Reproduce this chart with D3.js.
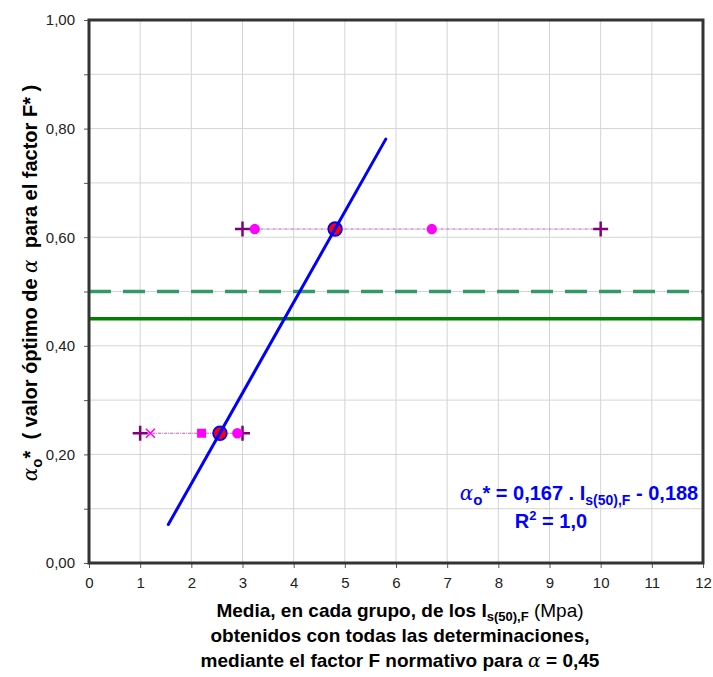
<!DOCTYPE html>
<html><head><meta charset="utf-8">
<script src="https://cdn.jsdelivr.net/npm/d3@7"></script>
<style>body{margin:0;background:#fff}</style>
</head><body>
<svg id="c" width="713" height="677"></svg>
<script>
// Data
const groupY = [0.239, 0.615];
const rangeMin = [1.0, 3.0];          // "+" markers, left
const rangeMax = [3.0, 10.0];         // "+" markers, right
const meanX = [2.56, 4.81];           // red/blue circle (group mean)
const circleX = [[2.9], [3.24, 6.7]]; // magenta circles
const squareX = [2.2];                // magenta square (group 1)
const crossX = [1.2];                 // magenta x (group 1)
const regSlope = 0.167, regIntercept = -0.188;
const regRange = [1.55, 5.8];
const refDashed = 0.50, refSolid = 0.45;
const xTicks = d3.range(0, 13, 1);
const yTicks = [0, 0.2, 0.4, 0.6, 0.8, 1.0];
const yGrid = d3.range(0, 1.0001, 0.1);

const svg = d3.select('#c');
const L = 89, R = 703, T = 20, B = 563;
const x = d3.scaleLinear().domain([0, 12]).range([L, R]);
const y = d3.scaleLinear().domain([0, 1]).range([B, T]);
const fmt = v => d3.format('.2f')(v).replace('.', ',');
const FF = 'Liberation Sans, Arial, sans-serif';
const SER = 'DejaVu Serif, serif';

// grid
svg.append('g').selectAll('line.v').data(xTicks.slice(1, -1)).join('line')
  .attr('x1', d => x(d)).attr('x2', d => x(d)).attr('y1', T).attr('y2', B)
  .attr('stroke', '#d4d4d4').attr('stroke-width', 1);
svg.append('g').selectAll('line.h').data(yGrid.slice(1, -1)).join('line')
  .attr('y1', d => y(d)).attr('y2', d => y(d)).attr('x1', L).attr('x2', R)
  .attr('stroke', '#d4d4d4').attr('stroke-width', 1);

// axes
const xAxis = d3.axisBottom(x).tickValues(xTicks).tickSize(5).tickFormat(d3.format('d'));
const gx = svg.append('g').attr('transform', `translate(0,${B})`).call(xAxis);
gx.select('.domain').remove();
gx.selectAll('line').attr('stroke', '#555');
gx.selectAll('text').attr('font-family', FF).attr('font-size', 15).attr('fill', '#222').attr('dy', '1.1em');

const yAxis = d3.axisLeft(y).tickValues(yGrid).tickSize(5).tickFormat(d => yTicks.some(t => Math.abs(t - d) < 1e-6) ? fmt(d) : '');
const gy = svg.append('g').attr('transform', `translate(${L},0)`).call(yAxis);
gy.select('.domain').remove();
gy.selectAll('line').attr('stroke', '#555');
gy.selectAll('text').attr('font-family', FF).attr('font-size', 15).attr('fill', '#222').attr('dx', '-0.4em');

// reference lines
svg.append('line').attr('x1', L).attr('x2', R).attr('y1', y(refDashed)).attr('y2', y(refDashed))
  .attr('stroke', '#339966').attr('stroke-width', 3.5).attr('stroke-dasharray', '22,12');
svg.append('line').attr('x1', L).attr('x2', R).attr('y1', y(refSolid)).attr('y2', y(refSolid))
  .attr('stroke', '#008000').attr('stroke-width', 3.5);

// dotted range lines
svg.append('g').selectAll('line').data(groupY).join('line')
  .attr('x1', (d, i) => x(rangeMin[i])).attr('x2', (d, i) => x(rangeMax[i]))
  .attr('y1', d => y(d)).attr('y2', d => y(d))
  .attr('stroke', '#b060b0').attr('stroke-width', 1).attr('stroke-dasharray', '3,1,1,1');

// plus markers
const plusPts = [];
groupY.forEach((g, i) => { plusPts.push([rangeMin[i], g]); plusPts.push([rangeMax[i], g]); });
const pg = svg.append('g');
plusPts.forEach(p => {
  const cx = x(p[0]), cy = y(p[1]), s = 7.5;
  pg.append('path').attr('d', `M${cx - s},${cy}H${cx + s}M${cx},${cy - s}V${cy + s}`)
    .attr('stroke', '#800080').attr('stroke-width', 2.5);
});

// magenta circles
const circPts = [];
circleX.forEach((arr, i) => arr.forEach(v => circPts.push([v, groupY[i]])));
svg.append('g').selectAll('circle').data(circPts).join('circle')
  .attr('cx', d => x(d[0])).attr('cy', d => y(d[1])).attr('r', 5.2).attr('fill', '#ff00ff');

// square
svg.append('g').selectAll('rect').data(squareX).join('rect')
  .attr('x', d => x(d) - 4.5).attr('y', y(groupY[0]) - 4.5).attr('width', 9).attr('height', 9).attr('fill', '#ff00ff');

// x marks
const xg = svg.append('g');
crossX.forEach(v => {
  const cx = x(v), cy = y(groupY[0]), s = 4.5;
  xg.append('path').attr('d', `M${cx - s},${cy - s}L${cx + s},${cy + s}M${cx - s},${cy + s}L${cx + s},${cy - s}`)
    .attr('stroke', '#ff00ff').attr('stroke-width', 1.6);
});

// mean circles
svg.append('g').selectAll('circle').data(meanX).join('circle')
  .attr('cx', d => x(d)).attr('cy', (d, i) => y(groupY[i])).attr('r', 6.8)
  .attr('fill', '#ff0000').attr('stroke', '#0000ff').attr('stroke-width', 1.8);
// regression line
svg.append('line')
  .attr('x1', x(regRange[0])).attr('y1', y(regSlope * regRange[0] + regIntercept))
  .attr('x2', x(regRange[1])).attr('y2', y(regSlope * regRange[1] + regIntercept))
  .attr('stroke', '#0000ff').attr('stroke-width', 3).attr('stroke-linecap', 'round');

// frame
svg.append('rect').attr('x', L).attr('y', T).attr('width', R - L).attr('height', B - T)
  .attr('fill', 'none').attr('stroke', '#333').attr('stroke-width', 3);

// annotation
const a1 = svg.append('text').attr('x', 579).attr('y', 500).attr('text-anchor', 'middle')
  .attr('font-family', FF).attr('font-size', 20).attr('font-weight', 'bold').attr('fill', '#0000ff');
a1.append('tspan').text('α').attr('font-family', SER).attr('font-style', 'italic').attr('font-weight', 'normal');
a1.append('tspan').text('o').attr('dy', 5).attr('font-size', 15);
a1.append('tspan').text('* = 0,167 . I').attr('dy', -5);
a1.append('tspan').text('s(50),F').attr('dy', 5).attr('font-size', 14);
a1.append('tspan').text(' - 0,188').attr('dy', -5);
const a2 = svg.append('text').attr('x', 551).attr('y', 528).attr('text-anchor', 'middle')
  .attr('font-family', FF).attr('font-size', 20).attr('font-weight', 'bold').attr('fill', '#0000ff');
a2.append('tspan').text('R');
a2.append('tspan').text('2').attr('dy', -8).attr('font-size', 13);
a2.append('tspan').text(' = 1,0').attr('dy', 8);

// x title
const t1 = svg.append('text').attr('x', 400).attr('y', 617).attr('text-anchor', 'middle')
  .attr('font-family', FF).attr('font-size', 19).attr('font-weight', 'bold').attr('fill', '#000');
t1.append('tspan').text('Media, en cada grupo, de los I');
t1.append('tspan').text('s(50),F').attr('dy', 4).attr('font-size', 13);
t1.append('tspan').text(' (Mpa)').attr('dy', -4).attr('font-weight', 'normal');
svg.append('text').attr('x', 400).attr('y', 642).attr('text-anchor', 'middle')
  .attr('font-family', FF).attr('font-size', 19).attr('font-weight', 'bold').attr('fill', '#000')
  .text('obtenidos con todas las determinaciones,');
const t3 = svg.append('text').attr('x', 400).attr('y', 667).attr('text-anchor', 'middle')
  .attr('font-family', FF).attr('font-size', 19).attr('font-weight', 'bold').attr('fill', '#000');
t3.append('tspan').text('mediante el factor F normativo para ');
t3.append('tspan').text('α').attr('font-family', SER).attr('font-style', 'italic').attr('font-weight', 'normal');
t3.append('tspan').text(' = 0,45');

// y title
const yt = svg.append('text').attr('transform', 'translate(37,283) rotate(-90)').attr('text-anchor', 'middle')
  .attr('font-family', FF).attr('font-size', 20).attr('font-weight', 'bold').attr('fill', '#000')
  .attr('xml:space', 'preserve').style('white-space', 'pre');
yt.append('tspan').text('α').attr('font-family', SER).attr('font-style', 'italic').attr('font-weight', 'normal');
yt.append('tspan').text('o').attr('dy', 5).attr('font-size', 15);
yt.append('tspan').text('*  ( valor óptimo de ').attr('dy', -5);
yt.append('tspan').text('α').attr('font-family', SER).attr('font-style', 'italic').attr('font-weight', 'normal');
yt.append('tspan').text('  para el factor F* )');
</script>
</body></html>
